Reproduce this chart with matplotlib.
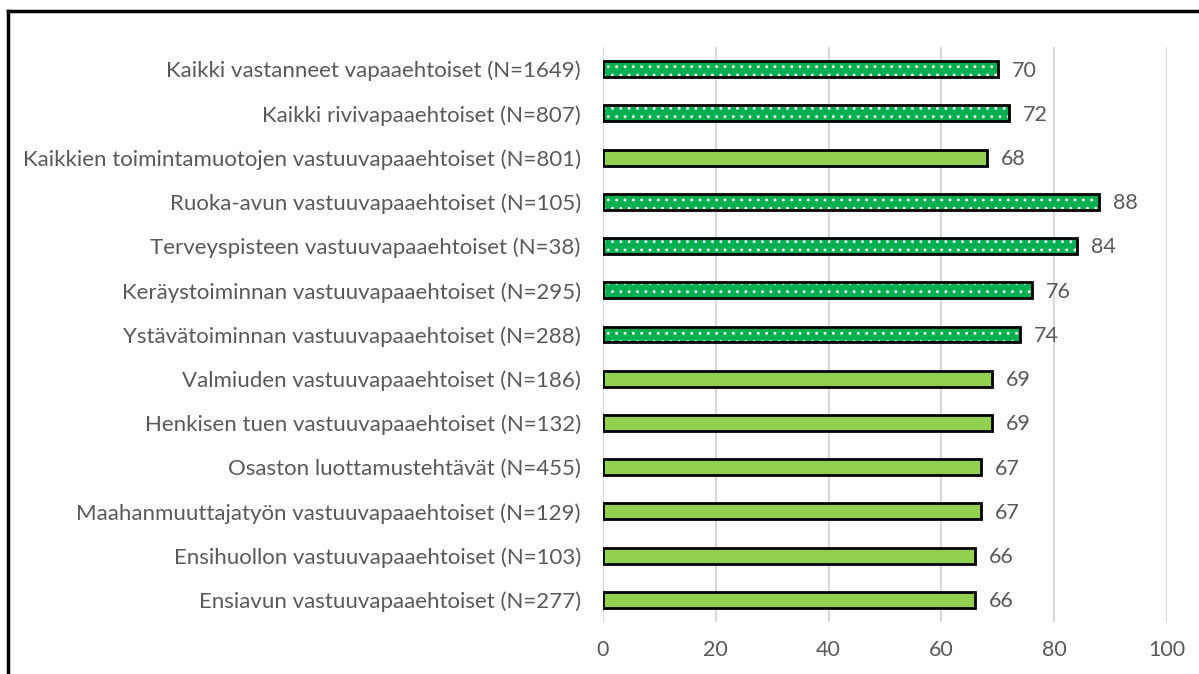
import matplotlib.pyplot as plt
from matplotlib.lines import Line2D

# Category labels (top to bottom) and their scores
labels = [
    "Kaikki vastanneet vapaaehtoiset (N=1649)",
    "Kaikki rivivapaaehtoiset (N=807)",
    "Kaikkien toimintamuotojen vastuuvapaaehtoiset (N=801)",
    "Ruoka-avun vastuuvapaaehtoiset (N=105)",
    "Terveyspisteen vastuuvapaaehtoiset (N=38)",
    "Keräystoiminnan vastuuvapaaehtoiset (N=295)",
    "Ystävätoiminnan vastuuvapaaehtoiset (N=288)",
    "Valmiuden vastuuvapaaehtoiset (N=186)",
    "Henkisen tuen vastuuvapaaehtoiset (N=132)",
    "Osaston luottamustehtävät (N=455)",
    "Maahanmuuttajatyön vastuuvapaaehtoiset (N=129)",
    "Ensihuollon vastuuvapaaehtoiset (N=103)",
    "Ensiavun vastuuvapaaehtoiset (N=277)",
]
values = [70, 72, 68, 88, 84, 76, 74, 69, 69, 67, 67, 66, 66]
dotted = [True, True, False, True, True, True, True, False, False, False, False, False, False]
x_ticks = [0, 20, 40, 60, 80, 100]

text_color = "#595959"
dark_green = "#00B050"
light_green = "#92D050"

plt.rcParams["font.family"] = ["Lato", "DejaVu Sans"]
plt.rcParams["hatch.linewidth"] = 0.9

fig = plt.figure(figsize=(11.99, 6.74), dpi=100)
ax = fig.add_axes([603 / 1199, 1 - 622 / 674, 564 / 1199, 575 / 674])

pos = list(range(len(labels)))
for y, v, d in zip(pos, values, dotted):
    if d:
        ax.barh(y, v, height=0.36, color=dark_green, edgecolor="white",
                hatch="..", linewidth=0, zorder=3)
    else:
        ax.barh(y, v, height=0.36, color=light_green, linewidth=0, zorder=3)
    ax.barh(y, v, height=0.36, fill=False, edgecolor="black", linewidth=2, zorder=4)
    ax.annotate(str(v), (v, y), xytext=(10, -1), textcoords="offset points",
                va="center", ha="left", fontsize=15.5, color=text_color)

ax.set_xlim(0, 100)
ax.set_ylim(len(labels) - 0.5, -0.5)
ax.set_xticks(x_ticks)
ax.set_yticks(pos)
ax.set_yticklabels(labels, fontsize=16)
ax.tick_params(axis="both", length=0, labelcolor=text_color)
ax.tick_params(axis="x", labelsize=15.5, pad=13)
ax.tick_params(axis="y", pad=16)
ax.grid(axis="x", color="#D9D9D9", linewidth=1.5, zorder=0)
for s in ax.spines.values():
    s.set_visible(False)

# outer frame (left and top edges)
fig.add_artist(Line2D([8 / 1199, 8 / 1199], [0, 1 - 11 / 674], transform=fig.transFigure,
                      color="black", linewidth=2.5))
fig.add_artist(Line2D([8 / 1199, 1], [1 - 11 / 674, 1 - 11 / 674], transform=fig.transFigure,
                      color="black", linewidth=2.5))

fig.savefig("out.png", dpi=100)
